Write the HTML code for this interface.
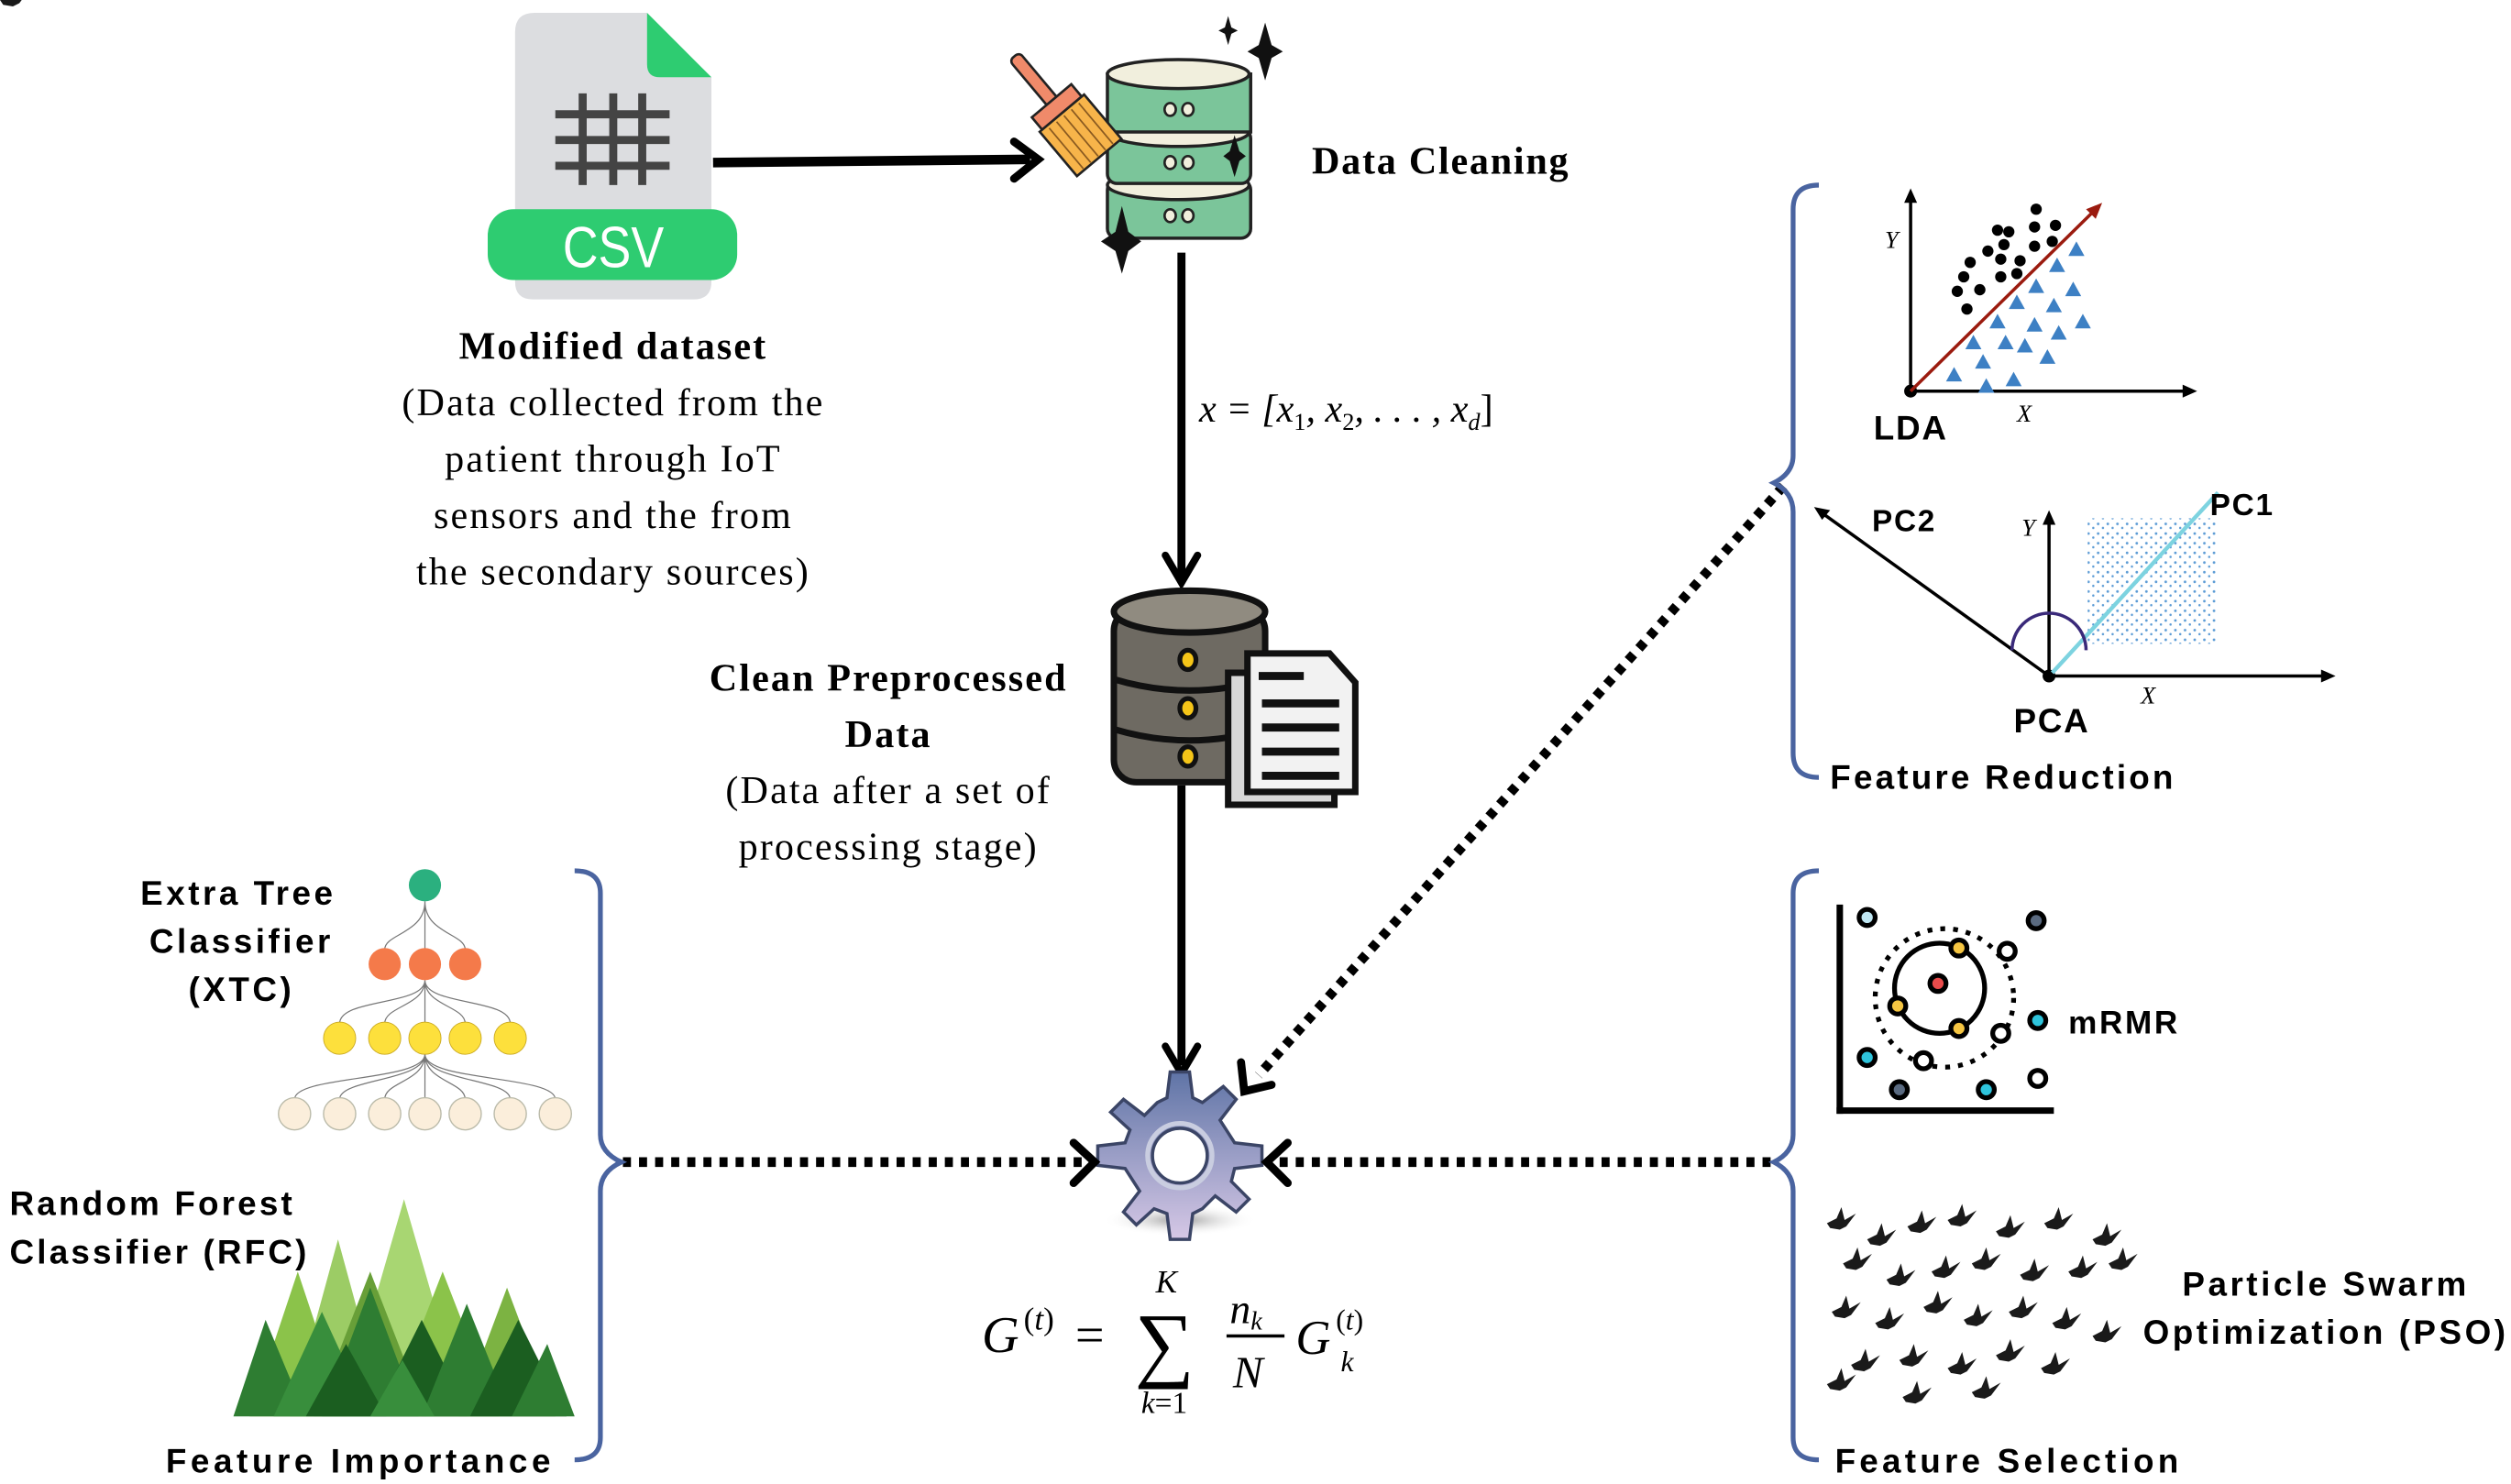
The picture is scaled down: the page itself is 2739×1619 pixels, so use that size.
<!DOCTYPE html>
<html><head><meta charset="utf-8"><style>
html,body{margin:0;padding:0;background:#fff;}
svg{display:block;}
.sf{font-family:"Liberation Serif","DejaVu Serif",serif;}
.ss{font-family:"Liberation Sans","DejaVu Sans",sans-serif;font-weight:bold;}
</style></head><body>
<svg width="2739" height="1619" viewBox="0 0 1560 922" preserveAspectRatio="none" xmlns="http://www.w3.org/2000/svg">
<defs>
<linearGradient id="gg" x1="0" y1="0" x2="0" y2="1"><stop offset="0" stop-color="#5f74a6"/><stop offset="1" stop-color="#d6c8e6"/></linearGradient>
<radialGradient id="sh" cx="0.5" cy="0.5" r="0.5"><stop offset="0" stop-color="#999"/><stop offset="1" stop-color="#fff" stop-opacity="0"/></radialGradient>
<pattern id="stp" width="6" height="6" patternUnits="userSpaceOnUse"><circle cx="1.5" cy="1.5" r="0.8" fill="#5b9bd5"/><circle cx="4.5" cy="4" r="0.7" fill="#5b9bd5"/></pattern>
</defs>
<rect width="1560" height="922" fill="#fff"/>

<!-- CSV icon -->
<path d="M332 8 H402 L442 48 V175 Q442 186 431 186 H331 Q320 186 320 175 V20 Q320 8 332 8Z" fill="#dcdde0"/>
<path d="M402 8 L442 48 H410 Q402 48 402 40Z" fill="#2ecc71"/>
<g stroke="#444" stroke-width="5">
<line x1="345" y1="71" x2="416" y2="71"/><line x1="345" y1="87" x2="416" y2="87"/><line x1="345" y1="103" x2="416" y2="103"/>
<line x1="362" y1="58" x2="362" y2="115"/><line x1="381" y1="58" x2="381" y2="115"/><line x1="399" y1="58" x2="399" y2="115"/>
</g>
<rect x="303" y="130" width="155" height="44" rx="16" fill="#2ecc71"/>
<text x="381" y="166" text-anchor="middle" font-family="Liberation Sans,sans-serif" font-size="36" fill="#fff" transform="translate(381 0) scale(0.85 1) translate(-381 0)">CSV</text>

<line x1="443" y1="101" x2="640" y2="99" stroke="#000" stroke-width="6"/>
<path d="M630 88 L645 99 L630 111" fill="none" stroke="#000" stroke-width="5" stroke-linecap="round"/>

<!-- cleaning db -->
<g stroke="#222" stroke-width="2">
<rect x="688" y="112" width="89" height="36" rx="6" fill="#7bc59a"/>
<ellipse cx="732" cy="115" rx="44" ry="9" fill="#f1efdd"/>
<rect x="688" y="80" width="89" height="34" rx="6" fill="#7bc59a"/>
<ellipse cx="732" cy="82" rx="44" ry="9" fill="#f1efdd"/>
<rect x="688" y="46" width="89" height="36" fill="#7bc59a"/>
<ellipse cx="732" cy="46" rx="44" ry="9" fill="#f1efdd"/>
</g>
<g fill="#f1efdd" stroke="#222" stroke-width="1.5">
<ellipse cx="727" cy="68" rx="3.5" ry="4"/><ellipse cx="738" cy="68" rx="3.5" ry="4"/>
<ellipse cx="727" cy="101" rx="3.5" ry="4"/><ellipse cx="738" cy="101" rx="3.5" ry="4"/>
<ellipse cx="727" cy="134" rx="3.5" ry="4"/><ellipse cx="738" cy="134" rx="3.5" ry="4"/>
</g>
<g transform="rotate(-40 665 75)">
<rect x="660" y="22" width="8" height="38" rx="3" fill="#f08a6a" stroke="#222" stroke-width="1.5"/>
<rect x="648" y="58" width="32" height="10" fill="#f08a6a" stroke="#222" stroke-width="1.5"/>
<rect x="646" y="68" width="36" height="36" fill="#f7b44a" stroke="#222" stroke-width="1.5"/>
<g stroke="#8a5a20" stroke-width="1"><line x1="652" y1="70" x2="652" y2="103"/><line x1="658" y1="70" x2="658" y2="103"/><line x1="664" y1="70" x2="664" y2="103"/><line x1="670" y1="70" x2="670" y2="103"/><line x1="676" y1="70" x2="676" y2="103"/></g>
</g>
<g fill="#111">
<path d="M786 14 L790 28 L797 32 L790 36 L786 50 L782 36 L775 32 L782 28Z"/>
<path d="M763 10 L765 17 L769 19 L765 21 L763 28 L761 21 L757 19 L761 17Z"/>
<path d="M767 84 L770 94 L774 97 L770 100 L767 110 L764 100 L760 97 L764 94Z"/>
<path d="M697 128 L701 144 L709 150 L701 156 L697 170 L693 156 L684 150 L693 144Z"/>
</g>
<text x="815" y="108" class="sf" font-weight="bold" font-size="24" letter-spacing="1">Data Cleaning</text>

<g class="sf" font-size="24" text-anchor="middle" letter-spacing="1.2">
<text x="381" y="223" font-weight="bold">Modified dataset</text>
<text x="381" y="258">(Data collected from the</text>
<text x="381" y="293">patient through IoT</text>
<text x="381" y="328">sensors and the from</text>
<text x="381" y="363">the secondary sources)</text>
</g>

<line x1="734" y1="157" x2="734" y2="358" stroke="#000" stroke-width="5"/>
<path d="M724 345 L734 362 L744 345" fill="none" stroke="#000" stroke-width="4.5" stroke-linecap="round"/>
<text x="745" y="262" class="sf" font-size="24" font-style="italic">x = [x<tspan font-size="15" dy="5" font-style="normal">1</tspan><tspan dy="-5">, x</tspan><tspan font-size="15" dy="5" font-style="normal">2</tspan><tspan dy="-5">, . . . , x</tspan><tspan font-size="15" dy="5">d</tspan><tspan dy="-5" font-style="normal">]</tspan></text>

<!-- dark db -->
<g stroke="#111" stroke-width="4">
<rect x="692" y="378" width="94" height="108" rx="14" fill="#6e6a62"/>
<ellipse cx="739" cy="380" rx="47" ry="13" fill="#908b80"/>
<path d="M692 422 Q739 436 786 422 M692 453 Q739 467 786 453" fill="none"/>
</g>
<g fill="#f5c518" stroke="#111" stroke-width="3">
<ellipse cx="738" cy="410" rx="5" ry="6"/><ellipse cx="738" cy="440" rx="5" ry="6"/><ellipse cx="738" cy="470" rx="5" ry="6"/>
</g>
<rect x="763" y="418" width="66" height="82" fill="#d8d8d8" stroke="#111" stroke-width="4"/>
<path d="M775 406 H826 L842 424 V492 H775Z" fill="#f2f2f2" stroke="#111" stroke-width="4"/>
<g stroke="#111" stroke-width="5"><line x1="782" y1="420" x2="810" y2="420"/><line x1="784" y1="437" x2="832" y2="437"/><line x1="784" y1="452" x2="832" y2="452"/><line x1="784" y1="467" x2="832" y2="467"/><line x1="784" y1="482" x2="832" y2="482"/></g>

<g class="sf" font-size="24" text-anchor="middle" letter-spacing="1.2">
<text x="552" y="429" font-weight="bold">Clean Preprocessed</text>
<text x="552" y="464" font-weight="bold">Data</text>
<text x="552" y="499">(Data after a set of</text>
<text x="552" y="534">processing stage)</text>
</g>

<line x1="734" y1="488" x2="734" y2="662" stroke="#000" stroke-width="5"/>
<path d="M724 650 L734 667 L744 650" fill="none" stroke="#000" stroke-width="4.5" stroke-linecap="round"/>

<!-- gear -->
<ellipse cx="733" cy="758" rx="48" ry="10" fill="url(#sh)"/>
<g transform="translate(733 718)" fill="url(#gg)" stroke="#3b4566" stroke-width="2">
<path d="M-8 -36 L-6 -52 L6 -52 L8 -36 L14 -33 L27 -43 L35 -35 L25 -22 L34 -8 L51 -6 L51 6 L34 8 L32 16 L43 27 L35 35 L22 25 L14 33 L8 36 L6 52 L-6 52 L-8 36 L-16 33 L-27 43 L-35 35 L-25 22 L-34 8 L-51 6 L-51 -6 L-34 -8 L-31 -16 L-43 -27 L-35 -35 L-22 -25 L-14 -33Z"/>
<circle r="17" fill="#fff" stroke="#3b4566" stroke-width="2"/>
<circle r="20" fill="none" stroke="#c9cde0" stroke-width="3"/>
</g>

<!-- formula -->
<g class="sf" font-style="italic" fill="#000">
<text x="610" y="840" font-size="32">G</text>
<text x="636" y="826" font-size="20" font-style="normal">(<tspan font-style="italic">t</tspan>)</text>
<text x="668" y="840" font-size="32" font-style="normal">=</text>
<text x="705" y="852" font-size="52" font-style="normal">∑</text>
<text x="718" y="803" font-size="20">K</text>
<text x="709" y="878" font-size="19">k<tspan font-style="normal">=1</tspan></text>
<text x="764" y="822" font-size="26">n<tspan font-size="16" dy="4">k</tspan></text>
<line x1="762" y1="830" x2="798" y2="830" stroke="#000" stroke-width="2"/>
<text x="766" y="862" font-size="28">N</text>
<text x="805" y="841" font-size="30">G</text>
<text x="830" y="826" font-size="18" font-style="normal">(<tspan font-style="italic">t</tspan>)</text>
<text x="833" y="852" font-size="18">k</text>
</g>

<g stroke="#000" stroke-width="6" stroke-dasharray="5 5" fill="none">
<line x1="387" y1="722" x2="672" y2="722"/>
<line x1="1100" y1="722" x2="795" y2="722"/>
<line x1="1108" y1="302" x2="782" y2="668"/>
</g>
<g fill="none" stroke="#000" stroke-width="5" stroke-linecap="round">
<path d="M667 710 L680 722 L667 735"/>
<path d="M800 710 L787 722 L800 735"/>
<path d="M771 660 L773 678 L790 674"/>
</g>

<g fill="none" stroke="#4a64a0" stroke-width="3">
<path d="M357 541 Q373 541 373 555 V705 Q373 716 386 722 Q373 728 373 740 V893 Q373 907 357 907"/>
<path d="M1130 115 Q1114 115 1114 130 V283 Q1114 294 1102 300 Q1114 306 1114 318 V468 Q1114 483 1130 483"/>
<path d="M1130 541 Q1114 541 1114 555 V705 Q1114 716 1102 722 Q1114 728 1114 740 V893 Q1114 907 1130 907"/>
</g>

<!-- LDA -->
<g stroke="#000" stroke-width="2"><line x1="1187" y1="243" x2="1187" y2="122"/><line x1="1187" y1="243" x2="1360" y2="243"/></g>
<path d="M1183 126 L1187 117 L1191 126Z M1356 239 L1365 243 L1356 247Z"/>
<circle cx="1187" cy="243" r="4"/>
<line x1="1187" y1="243" x2="1302" y2="130" stroke="#9b1b0f" stroke-width="2"/>
<path d="M1296 130 L1306 126 L1302 136Z" fill="#9b1b0f"/>
<g fill="#000">
<circle cx="1265" cy="130" r="3.5"/><circle cx="1241" cy="143" r="3.5"/><circle cx="1248" cy="144" r="3.5"/><circle cx="1264" cy="141" r="3.5"/><circle cx="1277" cy="140" r="3.5"/>
<circle cx="1235" cy="156" r="3.5"/><circle cx="1245" cy="152" r="3.5"/><circle cx="1264" cy="153" r="3.5"/><circle cx="1275" cy="150" r="3.5"/>
<circle cx="1224" cy="163" r="3.5"/><circle cx="1243" cy="161" r="3.5"/><circle cx="1255" cy="162" r="3.5"/><circle cx="1220" cy="172" r="3.5"/><circle cx="1243" cy="172" r="3.5"/><circle cx="1253" cy="170" r="3.5"/>
<circle cx="1216" cy="181" r="3.5"/><circle cx="1230" cy="180" r="3.5"/><circle cx="1222" cy="192" r="3.5"/>
</g>
<g fill="#3d80c4">
<path id="tr" d="M1290 150 l5 9 h-10z"/>
<use href="#tr" x="-12" y="10"/><use href="#tr" x="-25" y="23"/><use href="#tr" x="-2" y="25"/><use href="#tr" x="-37" y="33"/><use href="#tr" x="-14" y="35"/><use href="#tr" x="4" y="45"/>
<use href="#tr" x="-49" y="45"/><use href="#tr" x="-26" y="47"/><use href="#tr" x="-11" y="52"/><use href="#tr" x="-64" y="58"/><use href="#tr" x="-44" y="58"/><use href="#tr" x="-32" y="60"/><use href="#tr" x="-58" y="70"/><use href="#tr" x="-18" y="67"/><use href="#tr" x="-76" y="78"/><use href="#tr" x="-56" y="85"/><use href="#tr" x="-39" y="81"/>
</g>
<text x="1171" y="154" class="sf" font-style="italic" font-size="15">Y</text>
<text x="1253" y="262" class="sf" font-style="italic" font-size="15">X</text>
<text x="1164" y="273" class="ss" font-size="21" letter-spacing="1">LDA</text>

<!-- PCA -->
<rect x="1297" y="322" width="80" height="78" fill="url(#stp)"/>
<g stroke="#000" stroke-width="2"><line x1="1273" y1="420" x2="1273" y2="322"/><line x1="1273" y1="420" x2="1446" y2="420"/><line x1="1273" y1="420" x2="1131" y2="318"/></g>
<path d="M1269 326 L1273 317 L1277 326Z M1442 416 L1451 420 L1442 424Z"/>
<path d="M1127 315 L1137 317 L1132 323Z"/>
<circle cx="1273" cy="420" r="4"/>
<line x1="1275" y1="418" x2="1378" y2="306" stroke="#7dd3e0" stroke-width="2.5"/>
<path d="M1250 404 A23 23 0 0 1 1296 404" fill="none" stroke="#3a2a7a" stroke-width="2"/>
<text x="1256" y="333" class="sf" font-style="italic" font-size="15">Y</text>
<text x="1330" y="437" class="sf" font-style="italic" font-size="15">X</text>
<text x="1163" y="330" class="ss" font-size="19" letter-spacing="1">PC2</text>
<text x="1373" y="320" class="ss" font-size="19" letter-spacing="1">PC1</text>
<text x="1251" y="455" class="ss" font-size="21" letter-spacing="1">PCA</text>
<text x="1137" y="490" class="ss" font-size="21" letter-spacing="1.8">Feature Reduction</text>

<!-- XTC tree -->
<g stroke="#777" stroke-width="0.7" fill="none">
<path d="M264 560 C264 580 239 580 239 590 M264 560 V590 M264 560 C264 580 289 580 289 590"/>
<path d="M264 609 C264 625 211 620 211 636 M264 609 C264 625 239 625 239 636 M264 609 V636 M264 609 C264 625 289 625 289 636 M264 609 C264 625 317 620 317 636"/>
<path d="M264 655 C264 672 183 668 183 683 M264 655 C264 672 211 670 211 683 M264 655 C264 672 239 672 239 683 M264 655 V683 M264 655 C264 672 289 672 289 683 M264 655 C264 672 317 670 317 683 M264 655 C264 672 345 668 345 683"/>
</g>
<circle cx="264" cy="550" r="10" fill="#2bb07f"/>
<g fill="#f47a4a"><circle cx="239" cy="599" r="10"/><circle cx="264" cy="599" r="10"/><circle cx="289" cy="599" r="10"/></g>
<g fill="#fde03c" stroke="#c9a820" stroke-width="0.5"><circle cx="211" cy="645" r="10"/><circle cx="239" cy="645" r="10"/><circle cx="264" cy="645" r="10"/><circle cx="289" cy="645" r="10"/><circle cx="317" cy="645" r="10"/></g>
<g fill="#fbeedb" stroke="#bba" stroke-width="0.8"><circle cx="183" cy="692" r="10"/><circle cx="211" cy="692" r="10"/><circle cx="239" cy="692" r="10"/><circle cx="264" cy="692" r="10"/><circle cx="289" cy="692" r="10"/><circle cx="317" cy="692" r="10"/><circle cx="345" cy="692" r="10"/></g>
<g class="ss" font-size="21" text-anchor="middle" letter-spacing="2">
<text x="148" y="562">Extra Tree</text><text x="150" y="592">Classifier</text><text x="150" y="622">(XTC)</text>
</g>
<g class="ss" font-size="21" letter-spacing="1.8">
<text x="6" y="755">Random Forest</text><text x="6" y="785">Classifier (RFC)</text>
<text x="103" y="915" letter-spacing="2.6">Feature  Importance</text>
</g>

<!-- forest -->
<g>
<path d="M251 745 L290 880 H212Z" fill="#a8d672"/>
<path d="M210 770 L240 880 H180Z" fill="#9ccc65"/>
<path d="M275 790 L310 880 H240Z" fill="#8bc34a"/>
<path d="M315 800 L345 880 H285Z" fill="#7cb342"/>
<path d="M185 790 L215 880 H155Z" fill="#8bc34a"/>
<path d="M230 790 L265 880 H195Z" fill="#689f38"/>
<path d="M165 820 L190 880 H145Z" fill="#2e7d32"/>
<path d="M200 815 L230 880 H170Z" fill="#388e3c"/>
<path d="M230 800 L260 880 H200Z" fill="#2e7d32"/>
<path d="M262 820 L292 880 H232Z" fill="#1b5e20"/>
<path d="M290 810 L318 880 H262Z" fill="#2e7d32"/>
<path d="M322 820 L352 880 H292Z" fill="#1b5e20"/>
<path d="M340 835 L357 880 H318Z" fill="#2e7d32"/>
<path d="M215 835 L240 880 H190Z" fill="#1b5e20"/>
<path d="M250 845 L270 880 H230Z" fill="#388e3c"/>
</g>

<!-- mRMR -->
<g stroke="#000" stroke-width="4"><line x1="1143" y1="562" x2="1143" y2="692"/><line x1="1141" y1="690" x2="1276" y2="690"/></g>
<circle cx="1208" cy="620" r="43" fill="none" stroke="#000" stroke-width="3" stroke-dasharray="3 5"/>
<circle cx="1205" cy="614" r="28" fill="none" stroke="#000" stroke-width="3"/>
<g stroke="#000" stroke-width="3">
<circle cx="1204" cy="611" r="5" fill="#e94b4b"/>
<circle cx="1217" cy="589" r="5" fill="#f5c542"/><circle cx="1179" cy="625" r="5" fill="#f5c542"/><circle cx="1217" cy="639" r="5" fill="#f5c542"/>
<circle cx="1160" cy="570" r="5" fill="#bfe6f2"/><circle cx="1265" cy="572" r="5" fill="#5a6a80"/><circle cx="1247" cy="591" r="5" fill="#fff"/>
<circle cx="1266" cy="634" r="5" fill="#2ec4dc"/><circle cx="1243" cy="642" r="5" fill="#fff"/><circle cx="1160" cy="657" r="5" fill="#2ec4dc"/>
<circle cx="1195" cy="659" r="5" fill="#fff"/><circle cx="1180" cy="677" r="5" fill="#5a6a80"/><circle cx="1234" cy="677" r="5" fill="#2ec4dc"/><circle cx="1266" cy="670" r="5" fill="#fff"/>
</g>
<text x="1285" y="642" class="ss" font-size="20" letter-spacing="1.5">mRMR</text>

<!-- birds -->
<g fill="#1a1a1a">
<path id="bd" d="M0 0 L6 -3 L9 -10 L11 -2 L18 -6 L12 2 L8 4 L2 3Z"/>
<use href="#bd" x="1135" y="760"/><use href="#bd" x="1160" y="770"/><use href="#bd" x="1185" y="762"/><use href="#bd" x="1210" y="758"/><use href="#bd" x="1240" y="765"/><use href="#bd" x="1270" y="760"/><use href="#bd" x="1300" y="770"/>
<use href="#bd" x="1145" y="785"/><use href="#bd" x="1172" y="795"/><use href="#bd" x="1200" y="790"/><use href="#bd" x="1225" y="785"/><use href="#bd" x="1255" y="792"/><use href="#bd" x="1285" y="790"/><use href="#bd" x="1310" y="785"/>
<use href="#bd" x="1138" y="815"/><use href="#bd" x="1165" y="822"/><use href="#bd" x="1195" y="812"/><use href="#bd" x="1220" y="820"/><use href="#bd" x="1248" y="815"/><use href="#bd" x="1275" y="822"/><use href="#bd" x="1300" y="830"/>
<use href="#bd" x="1150" y="848"/><use href="#bd" x="1180" y="845"/><use href="#bd" x="1210" y="850"/><use href="#bd" x="1240" y="842"/><use href="#bd" x="1268" y="850"/><use href="#bd" x="1135" y="860"/><use href="#bd" x="1182" y="868"/><use href="#bd" x="1225" y="865"/>
</g>
<g class="ss" font-size="21" text-anchor="middle" letter-spacing="2">
<text x="1445" y="805">Particle Swarm</text><text x="1445" y="835">Optimization (PSO)</text>
</g>
<text x="1140" y="915" class="ss" font-size="21" letter-spacing="2.4">Feature  Selection</text>
</svg>
</body></html>
